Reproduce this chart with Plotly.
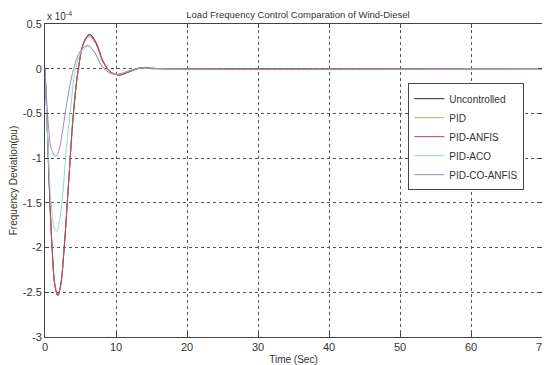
import plotly.graph_objects as go

# Frequency deviation values are in units of 1e-4 pu
t_big = [0, 0.25, 0.6, 1.0, 1.4, 1.8, 2.2, 2.7, 3.3, 4.0, 4.7, 5.5, 6.3, 7.2, 8.2, 9.3, 10.5, 12, 13.5, 15, 17, 70]
uncontrolled = [0, -0.5, -1.3, -2.0, -2.42, -2.53, -2.42, -2.0, -1.3, -0.5, 0.0, 0.3, 0.385, 0.29, 0.08, -0.04, -0.07, -0.03, 0.01, 0.005, 0, 0]
pid = [0, -0.5, -1.3, -2.0, -2.42, -2.53, -2.42, -2.0, -1.3, -0.5, 0.0, 0.29, 0.36, 0.27, 0.07, -0.04, -0.07, -0.03, 0.01, 0.005, 0, 0]
pid_anfis = [0, -0.5, -1.31, -2.01, -2.43, -2.54, -2.43, -2.01, -1.31, -0.51, 0.0, 0.3, 0.375, 0.28, 0.075, -0.04, -0.07, -0.03, 0.01, 0.005, 0, 0]

t_aco = [0, 0.2, 0.5, 0.9, 1.3, 1.65, 2.0, 2.5, 3.0, 3.6, 4.3, 5.2, 6.1, 7.0, 8.0, 9.2, 10.4, 12, 13.5, 15, 70]
pid_aco = [0, -0.4, -1.0, -1.55, -1.78, -1.82, -1.72, -1.4, -0.9, -0.45, 0.0, 0.2, 0.25, 0.18, 0.03, -0.05, -0.06, -0.02, 0.01, 0, 0]

t_co = [0, 0.2, 0.5, 0.9, 1.55, 2.0, 2.5, 3.0, 3.6, 4.2, 5.0, 6.0, 7.0, 8.0, 9.2, 10.4, 12, 13.5, 15, 70]
pid_co_anfis = [0, -0.3, -0.65, -0.9, -0.98, -0.9, -0.68, -0.42, -0.15, 0.05, 0.2, 0.26, 0.18, 0.03, -0.05, -0.06, -0.02, 0.01, 0, 0]

names = ["Uncontrolled", "PID", "PID-ANFIS", "PID-ACO", "PID-CO-ANFIS"]
colors = ["#22225a", "#b8a860", "#c0405a", "#90d8dc", "#a888b0"]

x_ticks = [0, 10, 20, 30, 40, 50, 60, 70]
y_ticks = [0.5, 0, -0.5, -1, -1.5, -2, -2.5, -3]
y_ticktext = ["0.5", "0", "-0.5", "-1", "-1.5", "-2", "-2.5", "-3"]

series = [
    (t_big, uncontrolled),
    (t_big, pid),
    (t_big, pid_anfis),
    (t_aco, pid_aco),
    (t_co, pid_co_anfis),
]

fig = go.Figure()
for (tx, ty), name, c in zip(series, names, colors):
    fig.add_trace(go.Scatter(x=tx, y=ty, mode="lines", name=name,
                             line=dict(color=c, width=1, shape="spline", smoothing=1.0)))

font = "Liberation Sans, Arial, sans-serif"
axis_common = dict(showline=True, linecolor="#444", linewidth=1, mirror="ticks",
                   ticks="inside", ticklen=4, tickcolor="#444",
                   showgrid=True, gridcolor="#555", griddash="dot", gridwidth=1,
                   zeroline=False, ticklabeloverflow="allow",
                   tickfont=dict(size=11, color="#333", family=font))

# The page body has an 8px margin, so the figure is sized to fill the rest
fig.update_layout(
    width=542, height=357,
    margin=dict(l=34, r=2, t=16, b=27),
    paper_bgcolor="white", plot_bgcolor="white",
    font=dict(family=font, color="#333"),
    title=dict(text="Load Frequency Control Comparation of Wind-Diesel",
               x=0.535, xanchor="center", y=0.982, yanchor="middle",
               font=dict(size=9.5, color="#333")),
    xaxis=dict(range=[0, 70], tickvals=x_ticks,
               title=dict(text="Time (Sec)", standoff=3, font=dict(size=10)),
               **axis_common),
    yaxis=dict(range=[-3, 0.5], tickvals=y_ticks, ticktext=y_ticktext,
               title=dict(text="Frequency Deviation(pu)", standoff=6, font=dict(size=10)),
               **axis_common),
    legend=dict(x=0.731, y=0.64, xanchor="left", yanchor="middle",
                bgcolor="white", bordercolor="#444", borderwidth=1,
                font=dict(size=10, color="#333"), itemwidth=30,
                entrywidth=70, entrywidthmode="pixels",
                tracegroupgap=0),
    showlegend=True,
)
fig.add_annotation(text="x 10<sup>-4</sup>", xref="paper", yref="paper",
                   x=0.0, y=1.0, xanchor="left", yanchor="bottom",
                   showarrow=False, font=dict(size=10, color="#333"))

fig.write_html("out.html")
